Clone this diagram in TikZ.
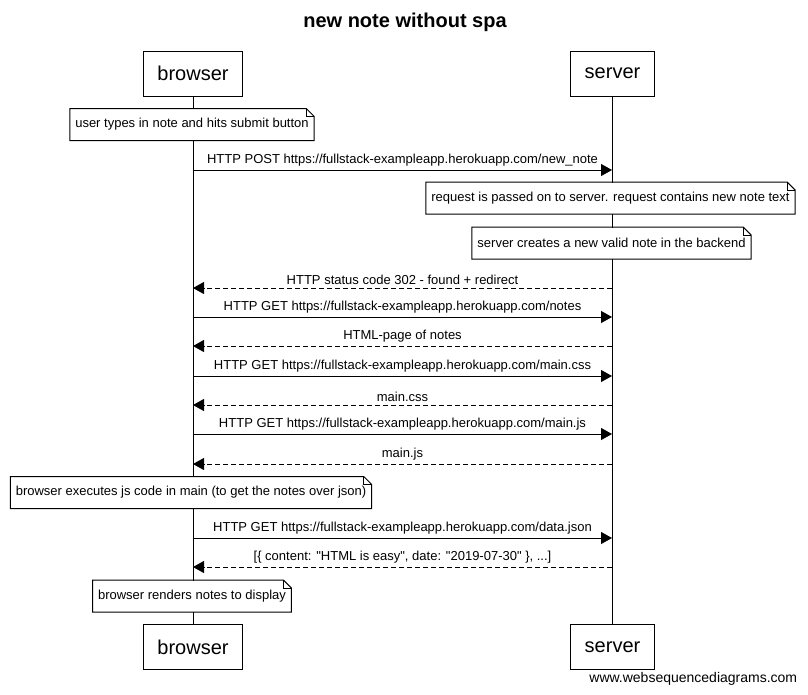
\documentclass[tikz,border=0pt]{standalone}
\usepackage{fontspec}
\setmainfont{Liberation Sans}
\usetikzlibrary{arrows.meta, positioning}
\tikzstyle{actor} = [rectangle, draw=black, inner xsep=14pt, minimum height=45pt, font=\fontsize{20}{24}\selectfont]
\tikzstyle{note} = [rectangle, fill=white, inner xsep=5pt, minimum height=31pt, font=\fontsize{13}{15}\selectfont]
\tikzstyle{msg} = [-{Triangle[length=11pt,width=12pt]}]
\tikzstyle{reply} = [msg, dash pattern=on 5pt off 3pt]
\tikzstyle{msglabel} = [above, inner sep=3pt, font=\fontsize{13}{15}\selectfont]
\newcommand{\notefold}[1]{%
  \draw (#1.north west) -- ([xshift=-8pt]#1.north east) -- ([yshift=-8pt]#1.north east) -- (#1.south east) -- (#1.south west) -- cycle;
  \draw ([xshift=-8pt]#1.north east) |- ([yshift=-8pt]#1.north east);}

\begin{document}
\begin{tikzpicture}[x=1pt, y=-1pt, line width=1pt]
\useasboundingbox (0,0) rectangle (808,694);
\node (title) at (405,22) {\fontsize{20}{24}\selectfont\bfseries new note without spa};
% actors and lifelines
\node (browser) [actor] at (193,73.5) {browser};
\node (server) [actor] at (612.5,73.5) {server};
\node (browser-end) [actor] at (193,647) {browser};
\node (server-end) [actor] at (612.5,647) {server};
\draw (browser) -- (browser-end);
\draw (server) -- (server-end);
\foreach \i/\y in {1/170, 2/288, 3/317, 4/346, 5/376, 6/405, 7/434, 8/464, 9/538, 10/567} {
  \coordinate (b\i) at (193,\y);
  \coordinate (s\i) at (612,\y);
}
% notes
\node (typed) [note] at (192,124.5) {user types in note and hits submit button};
\notefold{typed}
\node (passed) [note] at (610.5,198) {request is passed on to server. request contains new note text};
\notefold{passed}
\node (created) [note] at (611.5,243) {server creates a new valid note in the backend};
\notefold{created}
\node (executes) [note] at (191,492.5) {browser executes js code in main (to get the notes over json)};
\notefold{executes}
\node (renders) [note] at (192,596) {browser renders notes to display};
\notefold{renders}
% messages
\draw [msg] (b1) -- node[msglabel] {HTTP POST https://fullstack-exampleapp.herokuapp.com/new\_note} (s1);
\draw [reply] (s2) -- node[msglabel] {HTTP status code 302 - found + redirect} (b2);
\draw [msg] (b3) -- node[msglabel] {HTTP GET https://fullstack-exampleapp.herokuapp.com/notes} (s3);
\draw [reply] (s4) -- node[msglabel] {HTML-page of notes} (b4);
\draw [msg] (b5) -- node[msglabel] {HTTP GET https://fullstack-exampleapp.herokuapp.com/main.css} (s5);
\draw [reply] (s6) -- node[msglabel] {main.css} (b6);
\draw [msg] (b7) -- node[msglabel] {HTTP GET https://fullstack-exampleapp.herokuapp.com/main.js} (s7);
\draw [reply] (s8) -- node[msglabel] {main.js} (b8);
\draw [msg] (b9) -- node[msglabel] {HTTP GET https://fullstack-exampleapp.herokuapp.com/data.json} (s9);
\draw [reply] (s10) -- node[msglabel] {[\{ content: \textquotedbl HTML is easy\textquotedbl, date: \textquotedbl 2019-07-30\textquotedbl\ \}, ...]} (b10);
\node (credit) [anchor=east] at (801,679) {\fontsize{14}{16}\selectfont www.websequencediagrams.com};
\end{tikzpicture}
\end{document}
